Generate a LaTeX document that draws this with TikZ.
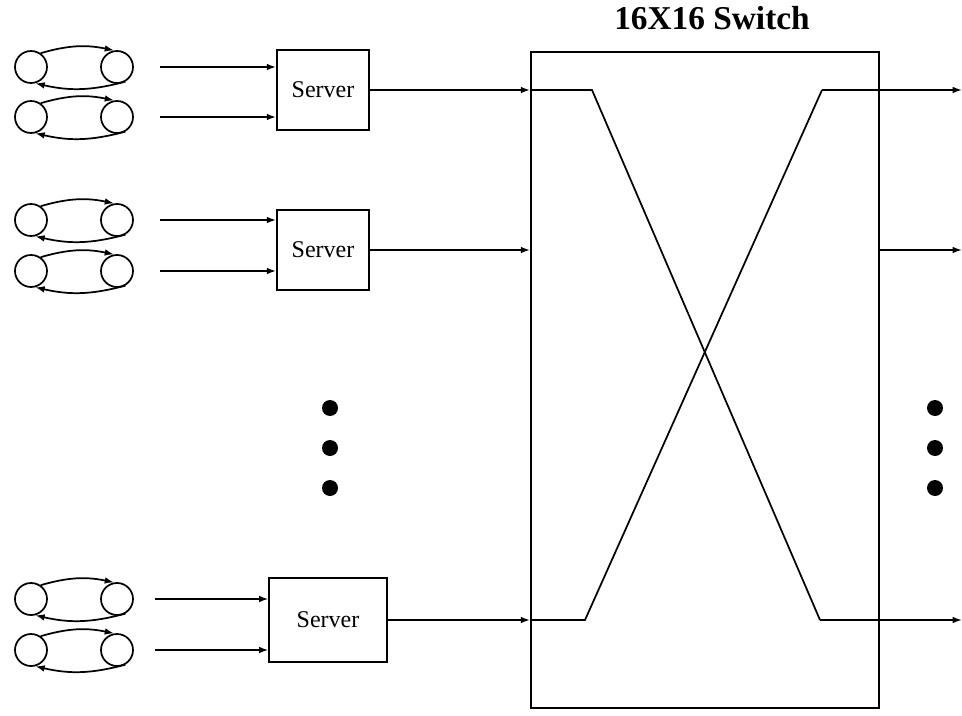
\documentclass[tikz,border=0pt]{standalone}
\usepackage{fontspec}
\setmainfont{Liberation Serif}
\usetikzlibrary{positioning,arrows.meta,calc}

\tikzset{
  ring/.style={circle, draw, line width=1.3pt, minimum size=24pt, inner sep=0pt},
  server/.style={rectangle, draw, line width=1.3pt, minimum width=69pt, minimum height=60pt, font=\fontsize{18}{20}\selectfont},
  flow/.style={line width=1.3pt, -{Latex[length=7pt,width=5pt]}},
  wire/.style={line width=1.3pt},
  dot/.style={circle, fill, minimum size=12pt, inner sep=0pt},
}

\begin{document}
\begin{tikzpicture}[x=0.75pt,y=0.75pt]
\useasboundingbox (0,0) rectangle (962,715);

% sources
\foreach \n/\y/\xs in {1/648/160, 2/598/160, 3/495/160, 4/444/160, 5/116/155, 6/65/155} {
  \node[ring] (l\n) at (31,\y) {};
  \node[ring] (r\n) at (117,\y) {};
  \draw[flow] (l\n.55) to[bend left=14] (r\n.100);
  \draw[flow] (r\n.-60) to[bend left=14] (l\n.-75);
  \coordinate (in\n) at (\xs,\y);
}

% servers
\node[server] (srv1) at (323,625) {Server};
\node[server] (srv2) at (323,465) {Server};
\node[server, minimum width=88pt, minimum height=63pt] (srv3) at (328,95) {Server};

\draw[flow] (in1) -- (in1 -| srv1.west);
\draw[flow] (in2) -- (in2 -| srv1.west);
\draw[flow] (in3) -- (in3 -| srv2.west);
\draw[flow] (in4) -- (in4 -| srv2.west);
\draw[flow] (in5) -- (in5 -| srv3.west);
\draw[flow] (in6) -- (in6 -| srv3.west);

% switch
\node[draw, line width=1.3pt, minimum width=261pt, minimum height=492pt] (sw) at (705,335) {};
\node[font=\bfseries\fontsize{25}{28}\selectfont] (title) at (712,697) {16X16 Switch};

\draw[flow] (srv1.east) -- (srv1.east -| sw.west);
\draw[flow] (srv2.east) -- (srv2.east -| sw.west);
\draw[flow] (srv3.east) -- (srv3.east -| sw.west);

\coordinate (a1) at (592,625);
\coordinate (a2) at (820,95);
\coordinate (b1) at (585,95);
\coordinate (b2) at (822,625);
\coordinate (o1) at (962,625);
\coordinate (o2) at (962,465);
\coordinate (o3) at (962,95);

\draw[wire] (srv1.east -| sw.west) -- (a1) -- (a2);
\draw[flow] (a2) -- (o3);
\draw[wire] (srv3.east -| sw.west) -- (b1) -- (b2);
\draw[flow] (b2) -- (o1);
\draw[flow] (srv2.east -| sw.east) -- (o2);

% dots
\node[dot] (p1) at (330,307) {};
\node[dot] (p2) at (330,267) {};
\node[dot] (p3) at (330,227) {};
\node[dot] (q1) at (935,307) {};
\node[dot] (q2) at (935,267) {};
\node[dot] (q3) at (935,227) {};
\end{tikzpicture}
\end{document}
